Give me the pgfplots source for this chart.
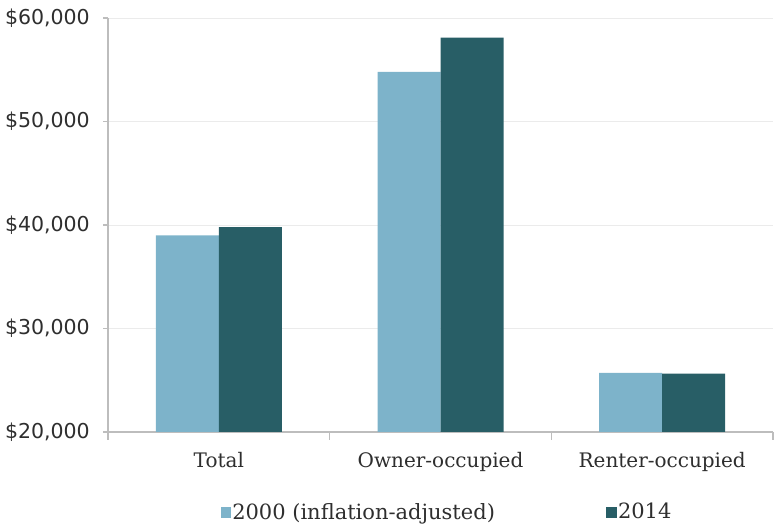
\documentclass[border=0pt]{standalone}
\usepackage{pgfplots}
\pgfplotsset{compat=1.18}
\usepackage{fontspec}
\setmainfont{DejaVu Serif}
\newfontfamily\numfont{DejaVu Sans}
\definecolor{lightbar}{HTML}{7DB3CA}
\definecolor{darkbar}{HTML}{285E66}
\definecolor{axisgray}{HTML}{BDBDBD}
\definecolor{txt}{HTML}{2E2E2E}

\begin{document}
\begin{tikzpicture}[x=1bp,y=1bp]
\path[use as bounding box] (0,0) rectangle (781,532);
\begin{axis}[
  at={(108bp,100bp)}, anchor=south west,
  scale only axis, width=665bp, height=414bp,
  ybar=0pt, bar width=63bp,
  xmin=-0.5, xmax=2.5, ymin=20000, ymax=60000,
  xtick={0,1,2},
  xticklabels={Total,Owner-occupied,Renter-occupied},
  minor xtick={-0.5,0.5,1.5,2.5},
  ytick={20000,30000,40000,50000,60000},
  yticklabels={{\$20,000},{\$30,000},{\$40,000},{\$50,000},{\$60,000}},
  scaled y ticks=false,
  axis x line*=bottom, axis y line*=left,
  axis line style={axisgray, line width=1.2bp},
  tick align=outside,
  major tick length=5bp, minor tick length=8bp,
  major x tick style={draw=none},
  minor x tick style={axisgray, line width=1.2bp},
  y tick style={axisgray, line width=1.2bp},
  ymajorgrids,
  major grid style={black!8, line width=0.8bp},
  tick label style={text=txt},
  xticklabel style={font=\fontsize{20bp}{24bp}\selectfont,
    anchor=base, inner sep=0pt, yshift=-31bp},
  yticklabel style={font=\numfont\fontsize{20.5bp}{24bp}\selectfont,
    anchor=east, inner sep=0pt, xshift=-13bp},
  legend columns=2,
  legend style={at={(0.170,-0.193)}, anchor=west, draw=none, fill=none,
    inner sep=0pt, font=\fontsize{21bp}{25bp}\selectfont, text=txt,
    /tikz/every even column/.append style={column sep=110bp},
    nodes={inner sep=1bp}},
]
\addplot[fill=lightbar, draw=none,
  legend image code/.code={\fill[lightbar] (0bp,-6bp) rectangle (10bp,5bp);}]
  coordinates {(0,39000) (1,54800) (2,25700)};
\addplot[fill=darkbar, draw=none,
  legend image code/.code={\fill[darkbar] (0bp,-6bp) rectangle (11bp,5bp);}]
  coordinates {(0,39800) (1,58100) (2,25650)};
\legend{2000 (inflation-adjusted),2014}
\end{axis}
\end{tikzpicture}
\end{document}
